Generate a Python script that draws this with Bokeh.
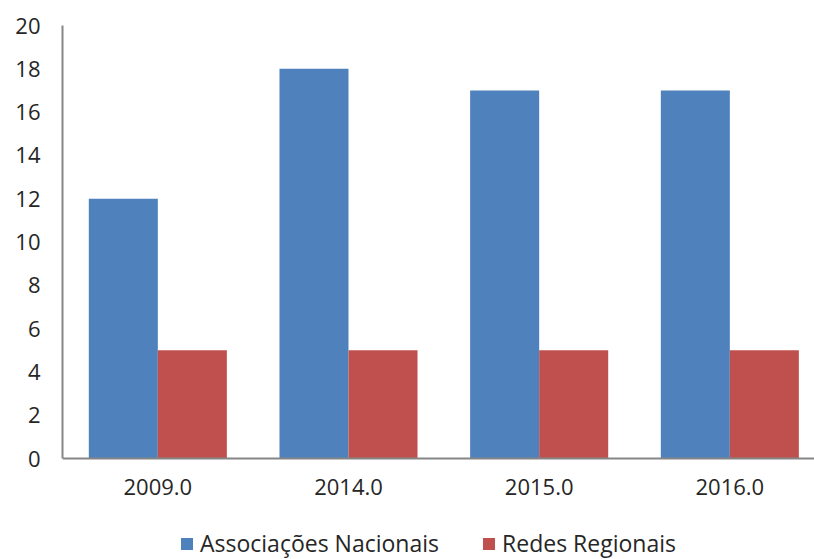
from bokeh.plotting import figure
from bokeh.models import ColumnDataSource, Legend, LegendItem, Range1d, FixedTicker, Span
from bokeh.core.properties import value
from bokeh.embed import file_html
from bokeh.resources import INLINE

years = ["2009.0", "2014.0", "2015.0", "2016.0"]
nacionais = [12, 18, 17, 17]
regionais = [5, 5, 5, 5]
series_names = ["Associações Nacionais", "Redes Regionais"]
colors = ["#4F81BD", "#C0504D"]
yticks = list(range(0, 21, 2))

BAR_W = 0.362
centers = [i + 0.5 for i in range(len(years))]
src = ColumnDataSource(dict(
    xn=[c - BAR_W / 2 for c in centers], xr=[c + BAR_W / 2 for c in centers],
    nac=nacionais, reg=regionais))
lab_src = ColumnDataSource(dict(x=centers, y=[0] * len(years), t=years))

FONT = "Open Sans"
TXT = "#262626"
AXC = "#868686"
p = figure(width=814, height=559, x_range=Range1d(0, 3.944), y_range=Range1d(-4.665, 20),
           output_backend="svg", toolbar_location=None,
           min_border_left=62, min_border_right=0, min_border_top=25, min_border_bottom=0)
p.outline_line_color = None
p.grid.grid_line_color = None
p.xaxis.visible = False

r1 = p.vbar(x="xn", top="nac", width=BAR_W, source=src, fill_color=colors[0], line_color=None)
r2 = p.vbar(x="xr", top="reg", width=BAR_W, source=src, fill_color=colors[1], line_color=None)

# category axis baseline and labels
p.add_layout(Span(location=0, dimension="width", line_color=AXC, line_width=2))
p.text(x="x", y="y", text="t", source=lab_src, text_align="center", text_baseline="top",
       y_offset=20, text_font=value(FONT), text_font_size="22px", text_color=TXT)

ax = p.yaxis[0]
ax.bounds = (0, 20)
ax.axis_line_color = AXC
ax.axis_line_width = 2
ax.major_tick_line_color = None
ax.minor_tick_line_color = None
ax.major_tick_out = 0
ax.major_tick_in = 0
ax.major_label_text_font = FONT
ax.major_label_text_font_size = "22px"
ax.major_label_text_color = TXT
ax.ticker = FixedTicker(ticks=yticks)
ax.major_label_standoff = 22

legend = Legend(items=[LegendItem(label=series_names[0], renderers=[r1]),
                       LegendItem(label=series_names[1], renderers=[r2])],
                orientation="horizontal", location=(117, 0),
                label_text_font=FONT, label_text_font_size="23px", label_text_color=TXT,
                glyph_width=15, glyph_height=15, label_standoff=6, spacing=42,
                border_line_color=None, background_fill_alpha=0, padding=0, margin=0)
p.add_layout(legend, "center")

open("out.html", "w").write(file_html(p, INLINE))
